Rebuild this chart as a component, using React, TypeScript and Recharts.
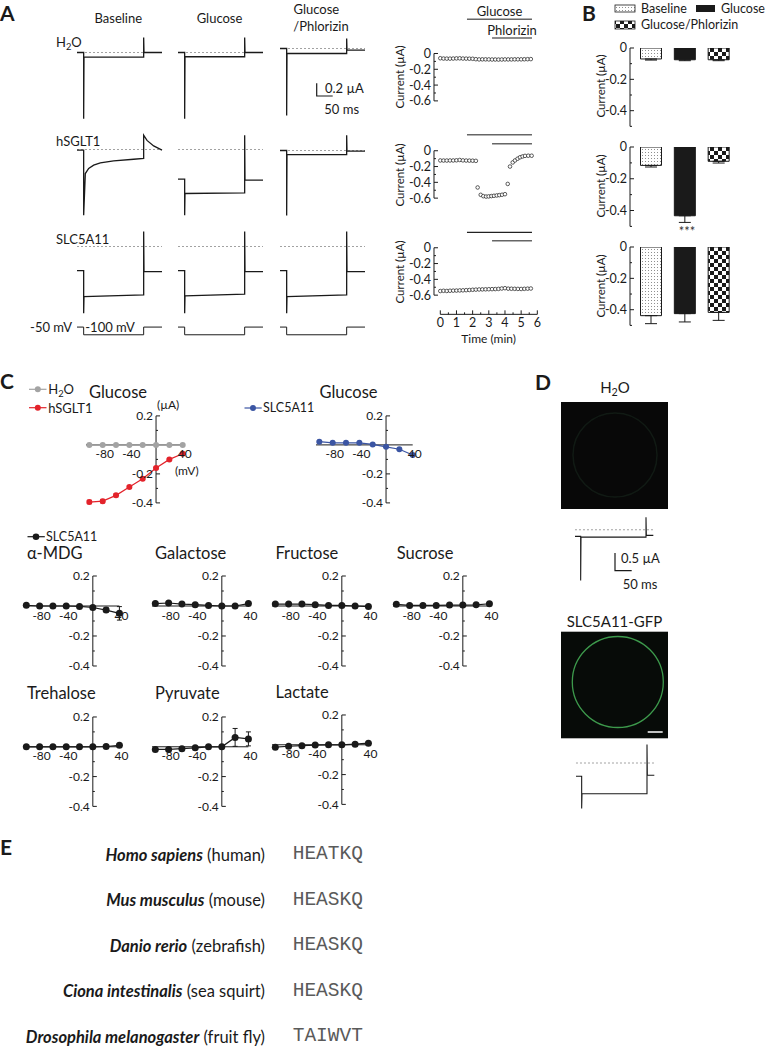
import React from 'react';
import {
  LineChart, Line, XAxis, YAxis, ReferenceLine, ReferenceDot,
  ScatterChart, Scatter, BarChart, Bar, Cell, ErrorBar,
} from 'recharts';

const FONT = 'Lato, "Noto Sans", sans-serif';
const INK = '#1a1a1a';

// ---------- Panel A: example current traces (time in ms, current in µA) ----------
const stepTime = [0, 20, 20, 21, 200, 200, 201, 255];
const h2oBaseline = [0, 0, -1.02, -0.07, -0.07, 0.23, 0, 0];
const h2oGlucose = [0, 0, -1.02, -0.065, -0.065, 0.23, 0, 0];
const h2oPhlorizin = [0, 0, -1.03, -0.077, -0.077, 0.154, -0.026, -0.026];
const sgltBaseTime = [0, 20, 20, 25, 35, 50, 70, 110, 170, 200, 200, 210, 230, 255];
const sgltBaseline = [-0.01, -0.01, -1.01, -0.37, -0.29, -0.24, -0.206, -0.175, -0.15, -0.138, 0.22, 0.14, 0.055, -0.01];
const sgltGlucose = [-0.457, -0.457, -1.01, -0.677, -0.668, 0.22, -0.472, -0.472];
const sgltPhlorizin = [0, 0, -1.0, -0.062, -0.062, 0.235, -0.01, -0.01];
const slcBaseline = [-0.37, -0.37, -1.025, -0.77, -0.743, 0.23, -0.385, -0.385];
const slcGlucose = [-0.37, -0.37, -1.025, -0.758, -0.733, 0.23, -0.385, -0.385];
const slcPhlorizin = [-0.37, -0.37, -1.025, -0.77, -0.743, 0.23, -0.385, -0.385];
const vTime = [0, 20, 20, 200, 200, 255];
const vStep = [-50, -50, -100, -100, -50, -50];

// ---------- Panel A: time course (min, µA) ----------
const tcTime = [0, 0.2, 0.4, 0.6, 0.8, 1, 1.2, 1.4, 1.6, 1.8, 2, 2.2, 2.4, 2.6, 2.8, 3, 3.2, 3.4, 3.6, 3.8, 4, 4.2, 4.4, 4.6, 4.8, 5, 5.2, 5.4, 5.6];
const tcH2O = [-0.06, -0.064, -0.065, -0.065, -0.064, -0.062, -0.061, -0.064, -0.065, -0.066, -0.067, -0.072, -0.075, -0.074, -0.074, -0.075, -0.076, -0.076, -0.077, -0.076, -0.075, -0.075, -0.075, -0.074, -0.074, -0.074, -0.073, -0.072, -0.071];
const tcSlc = [-0.548, -0.545, -0.547, -0.544, -0.543, -0.542, -0.54, -0.539, -0.537, -0.535, -0.532, -0.53, -0.528, -0.527, -0.526, -0.525, -0.524, -0.523, -0.521, -0.516, -0.512, -0.518, -0.519, -0.52, -0.521, -0.522, -0.52, -0.518, -0.516];
const tcSgltTime = [0, 0.2, 0.4, 0.6, 0.8, 1, 1.2, 1.4, 1.6, 1.8, 2, 2.2, 2.31, 2.5, 2.66, 2.83, 2.99, 3.16, 3.32, 3.49, 3.65, 3.82, 4.0, 4.17, 4.31, 4.48, 4.62, 4.78, 4.93, 5.09, 5.24, 5.44, 5.65];
const tcSglt = [-0.123, -0.124, -0.124, -0.123, -0.123, -0.121, -0.117, -0.122, -0.124, -0.125, -0.126, -0.128, -0.465, -0.558, -0.575, -0.58, -0.578, -0.574, -0.57, -0.566, -0.562, -0.557, -0.55, -0.42, -0.2, -0.148, -0.123, -0.101, -0.083, -0.072, -0.065, -0.063, -0.063];
const glucoseOn = [1.65, 5.67];
const phlorizinOn = [3.2, 5.67];

// ---------- Panel B: mean currents (µA) ----------
const bConditions = ['Baseline', 'Glucose', 'Glucose/Phlorizin'];
const bH2O = [-0.07, -0.075, -0.075];
const bH2OErr = [0.007, 0.006, 0.006];
const bSglt = [-0.116, -0.433, -0.09];
const bSgltErr = [0.01, 0.042, 0.011];
const bSlc = [-0.438, -0.425, -0.417];
const bSlcErr = [0.051, 0.053, 0.051];

// ---------- Panel C: I-V relations (mV, µA) ----------
const ivVoltage = [-100, -80, -60, -40, -20, 0, 20, 40];
const ivH2O = [0, 0, 0, 0, 0, 0, 0, 0];
const ivSglt = [-0.394, -0.388, -0.348, -0.291, -0.233, -0.16, -0.1, -0.061];
const ivSgltErr = [0.012, 0.012, 0.01, 0.008, 0.006, 0.006, 0.005, 0.005];
const ivSlcGlucose = [0.022, 0.014, 0.014, 0.014, 0.003, -0.013, -0.03, -0.07];
const ivSlcGlucoseErr = [0.004, 0.003, 0.003, 0.003, 0.003, 0.004, 0.006, 0.01];
const ivAmdg = [0.005, 0, 0, 0, -0.003, -0.01, -0.027, -0.049];
const ivAmdgErr = [0, 0, 0, 0, 0, 0, 0.012, 0.045];
const ivGalactose = [0.016, 0.02, 0.013, 0.009, 0.004, 0, 0, 0.016];
const ivFructose = [0.013, 0.013, 0.013, 0.009, 0.004, 0.004, 0, -0.004];
const ivSucrose = [0.011, 0.004, 0.004, 0.004, 0.006, 0.006, 0.008, 0.015];
const ivTrehalose = [0, 0, 0, 0, 0, 0, 0.002, 0.01];
const ivPyruvate = [-0.018, -0.018, -0.013, -0.007, 0, 0, 0.063, 0.053];
const ivPyruvateErr = [0.01, 0, 0, 0, 0, 0, 0.06, 0.047];
const ivLactate = [-0.016, -0.01, -0.006, -0.002, 0, 0, 0.004, 0.011];

// ---------- Panel D: traces (ms, µA) ----------
const dTime = [0, 17, 17, 18, 213, 213, 214, 235];
const dH2O = [-0.19, -0.19, -1.45, -0.21, -0.21, 0.36, -0.16, -0.16];
const dSlc = [-0.38, -0.38, -1.3, -0.877, -0.877, 0.53, -0.35, -0.35];

// ---------- Panel E ----------
const species = [
  ['Homo sapiens', '(human)'],
  ['Mus musculus', '(mouse)'],
  ['Danio rerio', '(zebrafish)'],
  ['Ciona intestinalis', '(sea squirt)'],
  ['Drosophila melanogaster', '(fruit fly)'],
];
const motifs = ['HEATKQ', 'HEASKQ', 'HEASKQ', 'HEASKQ', 'TAIWVT'];

const GRAY = '#a3a3a3';
const RED = '#e3232b';
const BLUE = '#3b55a3';

function T({ x, y, s = 13, a = 'start', w = 400, i = false, f = FONT, c = INK, children }: any) {
  const tx = a === 'start' ? '0' : a === 'middle' ? '-50%' : '-100%';
  return (
    <div style={{ position: 'absolute', left: x, top: y, transform: `translate(${tx}, -50%)`, fontSize: s, fontFamily: f, fontWeight: w, fontStyle: i ? 'italic' : 'normal', color: c, whiteSpace: 'nowrap', lineHeight: 1 }}>
      {children}
    </div>
  );
}

function VT({ x, y, s = 11.5, children }: any) {
  return (
    <div style={{ position: 'absolute', left: x, top: y, transform: 'translate(-50%, -50%) rotate(-90deg)', fontSize: s, fontFamily: FONT, color: INK, whiteSpace: 'nowrap', lineHeight: 1 }}>
      {children}
    </div>
  );
}

const Sub = ({ children }: any) => (
  <span style={{ fontSize: '0.72em', position: 'relative', top: '0.3em' }}>{children}</span>
);

function Trace({ left, top, time, values, tMax = 255, lo = -1.1, hi = 0.3, k = 65, dashed = true, sw = 1.3 }: any) {
  const data = time.map((t: number, i: number) => ({ t, v: values[i] }));
  const m = 3;
  const w = tMax / 3;
  const h = (hi - lo) * k;
  return (
    <div style={{ position: 'absolute', left: left - m, top: top - m }}>
      <LineChart width={w + 2 * m} height={h + 2 * m} data={data} margin={{ top: m, right: m, bottom: m, left: m }}>
        <XAxis type="number" dataKey="t" domain={[0, tMax]} hide />
        <YAxis type="number" domain={[lo, hi]} hide />
        {dashed && <ReferenceLine y={0} stroke="#8a8a8a" strokeDasharray="2 2" strokeWidth={0.8} />}
        <Line dataKey="v" type="linear" stroke={INK} strokeWidth={sw} dot={false} isAnimationActive={false} />
      </LineChart>
    </div>
  );
}

const fmt = (v: number) => (v === 0 ? '0' : v.toFixed(1));
const isMajor = (v: number) => Math.abs(Math.round(v * 10)) % 2 === 0;

const yTick = (p: any) => {
  const { x, y, payload } = p;
  const major = isMajor(payload.value);
  return (
    <g>
      <line x1={x} x2={x + (major ? 4 : 2)} y1={y} y2={y} stroke={INK} strokeWidth={1} />
      {major && (
        <text x={x - 3} y={y} textAnchor="end" dominantBaseline="central" fontSize={12.5} fontFamily={FONT} fill={INK}>{fmt(payload.value)}</text>
      )}
    </g>
  );
};

const bTick = (p: any) => {
  const { x, y, payload } = p;
  const v = payload.value;
  const major = isMajor(v) && v !== -0.5;
  return (
    <g>
      <line x1={x} x2={x + (major ? 4 : 2)} y1={y} y2={y} stroke={INK} strokeWidth={1} />
      {major && (
        <text x={x - 3} y={y} textAnchor="end" dominantBaseline="central" fontSize={12.5} fontFamily={FONT} fill={INK}>{fmt(v)}</text>
      )}
    </g>
  );
};

const tcXTick = (p: any) => {
  const { x, y, payload } = p;
  const major = Number.isInteger(payload.value);
  return (
    <g>
      <line x1={x} x2={x} y1={y} y2={y - (major ? 4 : 2)} stroke={INK} strokeWidth={1} />
      {major && (
        <text x={x} y={y + 8.5} textAnchor="middle" dominantBaseline="central" fontSize={12.5} fontFamily={FONT} fill={INK}>{payload.value}</text>
      )}
    </g>
  );
};

const OpenCircle = (p: any) => (
  <circle cx={p.cx} cy={p.cy} r={1.8} fill="#fff" stroke={INK} strokeWidth={0.7} />
);

const TC_LEFT = 434;
const TC_K = 79;
const TC_PX = 16.17;
const TC_X = [-0.39, 6];

function TimeCourse({ zero, lo, hi, times, values, periods, xAxis = false }: any) {
  const data = times.map((t: number, i: number) => ({ t, v: values[i] }));
  const plotW = (TC_X[1] - TC_X[0]) * TC_PX;
  const plotH = (hi - lo) * TC_K;
  const yW = 44;
  const xH = xAxis ? 20 : 0;
  const m = { top: 16, right: 6, bottom: 9, left: 0 };
  return (
    <div style={{ position: 'absolute', left: TC_LEFT - yW, top: zero - hi * TC_K - m.top }}>
      <ScatterChart width={yW + plotW + m.right} height={m.top + plotH + xH + m.bottom} margin={m}>
        <XAxis type="number" dataKey="t" domain={TC_X} hide={!xAxis} height={xH} ticks={[0, 0.5, 1, 1.5, 2, 2.5, 3, 3.5, 4, 4.5, 5, 5.5, 6]} tick={tcXTick} tickSize={0} tickMargin={0} axisLine={false} tickLine={false} interval={0} allowDataOverflow />
        <YAxis type="number" dataKey="v" domain={[lo, hi]} width={yW} ticks={[0, -0.1, -0.2, -0.3, -0.4, -0.5, -0.6]} tick={yTick} tickSize={0} tickMargin={0} axisLine={false} tickLine={false} interval={0} allowDataOverflow />
        <ReferenceLine segment={[{ x: TC_X[0], y: 0 }, { x: TC_X[0], y: -0.6 }]} stroke={INK} strokeWidth={1} />
        {xAxis && <ReferenceLine segment={[{ x: 0, y: lo }, { x: 6, y: lo }]} stroke={INK} strokeWidth={1} />}
        {periods.map((pr: any, i: number) => (
          <ReferenceLine key={i} segment={[{ x: pr.on[0], y: pr.y }, { x: pr.on[1], y: pr.y }]} stroke={pr.color} strokeWidth={1.4}
            label={pr.label ? { value: pr.label, position: 'top', offset: 3, fontSize: 13, fontFamily: FONT, fill: INK } : undefined} />
        ))}
        <Scatter data={data} shape={OpenCircle} isAnimationActive={false} />
      </ScatterChart>
    </div>
  );
}

const barFills = ['url(#dots)', INK, 'url(#checker)'];

function CurrentBars({ zero, k, values, errors }: any) {
  const data = bConditions.map((c, i) => ({ c, v: values[i], e: [errors[i], 0] }));
  const plotH = 0.5 * k;
  const plotW = 106;
  const yW = 40;
  const m = { top: 8, right: 4, bottom: 8, left: 0 };
  return (
    <div style={{ position: 'absolute', left: 630 - yW, top: zero - m.top }}>
      <BarChart width={yW + plotW + m.right} height={m.top + plotH + m.bottom} data={data} margin={m}>
        <XAxis dataKey="c" hide padding={{ left: 4.5, right: 0 }} />
        <YAxis type="number" domain={[-0.5, 0]} ticks={[0, -0.1, -0.2, -0.3, -0.4, -0.5]} width={yW} tick={bTick} tickSize={0} tickMargin={0} tickLine={false} axisLine={{ stroke: INK, strokeWidth: 1 }} interval={0} allowDataOverflow />
        <Bar dataKey="v" barSize={21} stroke={INK} strokeWidth={1} isAnimationActive={false}>
          {data.map((d, i) => <Cell key={i} fill={barFills[i]} />)}
          <ErrorBar dataKey="e" width={6} stroke={INK} strokeWidth={1} direction="y" />
        </Bar>
      </BarChart>
    </div>
  );
}

const IV_V = [-108, 48];
const IV_I = [-0.42, 0.22];

function IVPlot({ x0, y0, kx = 0.665, ky = 150, series, r = 3.5 }: any) {
  const data = ivVoltage.map((v, i) => {
    const row: any = { v };
    series.forEach((s: any, j: number) => {
      row['s' + j] = s.values[i];
      if (s.errors) row['e' + j] = s.errors[i];
    });
    return row;
  });
  const m = { top: 6, right: 14, bottom: 18, left: 30 };
  const plotW = (IV_V[1] - IV_V[0]) * kx;
  const plotH = (IV_I[1] - IV_I[0]) * ky;
  const lab = { fontSize: 12, fontFamily: FONT, fill: INK };
  return (
    <div style={{ position: 'absolute', left: x0 + IV_V[0] * kx - m.left, top: y0 - IV_I[1] * ky - m.top }}>
      <LineChart width={plotW + m.left + m.right} height={plotH + m.top + m.bottom} data={data} margin={m}>
        <XAxis type="number" dataKey="v" domain={IV_V} hide allowDataOverflow />
        <YAxis type="number" domain={IV_I} hide allowDataOverflow />
        <ReferenceLine segment={[{ x: -105, y: 0 }, { x: 40, y: 0 }]} stroke={INK} strokeWidth={1} />
        <ReferenceLine segment={[{ x: 0, y: -0.4 }, { x: 0, y: 0.2 }]} stroke={INK} strokeWidth={1} />
        {[0.2, 0.1, -0.1, -0.2, -0.3, -0.4].map((v) => (
          <ReferenceLine key={'t' + v} segment={[{ x: 0, y: v }, { x: (isMajor(v) ? 4 : 2) / kx, y: v }]} stroke={INK} strokeWidth={1} />
        ))}
        {[0.2, -0.2, -0.4].map((v) => (
          <ReferenceDot key={'l' + v} x={0} y={v} r={0.01} fill="none" stroke="none" label={{ value: v.toFixed(1), position: 'left', offset: 3, ...lab }} />
        ))}
        {[-80, -40, 40].map((v) => (
          <ReferenceDot key={'x' + v} x={v + 3} y={0} r={0.01} fill="none" stroke="none" label={{ value: String(v), position: 'bottom', offset: 5, ...lab }} />
        ))}
        {series.map((s: any, j: number) => (
          <Line key={j} dataKey={'s' + j} type="linear" stroke={s.color} strokeWidth={1.2} isAnimationActive={false}
            dot={{ r, fill: s.color, stroke: s.color, strokeWidth: 0 }}>
            {s.errors && <ErrorBar dataKey={'e' + j} width={2.5} stroke={s.color} strokeWidth={1} direction="y" />}
          </Line>
        ))}
      </LineChart>
    </div>
  );
}

const black = (values: number[], errors?: number[]) => [{ values, errors, color: INK }];

export default function App() {
  const aCols = [76.7, 178.3, 280];
  return (
    <div style={{ position: 'absolute', left: 0, top: 0, width: 766, height: 1048, background: '#fff', fontFamily: FONT, overflow: 'hidden' }}>
      <svg width={766} height={1048} style={{ position: 'absolute', left: 0, top: 0 }}>
        <defs>
          <pattern id="dots" width="3" height="3" patternUnits="userSpaceOnUse">
            <rect width="3" height="3" fill="#fff" />
            <rect x="1" y="1" width="1" height="1" fill="#8f8f8f" />
          </pattern>
          <pattern id="checker" width="8" height="8" patternUnits="userSpaceOnUse">
            <rect width="8" height="8" fill="#fff" />
            <rect width="4" height="4" fill={INK} />
            <rect x="4" y="4" width="4" height="4" fill={INK} />
          </pattern>
        </defs>
        {/* A scale bar */}
        <path d="M316.7 83.3 V96 H332.7" fill="none" stroke={INK} strokeWidth={1.2} />
        {/* B legend */}
        <rect x={615} y={5} width={20} height={7} fill="url(#dots)" stroke={INK} strokeWidth={0.8} />
        <rect x={696} y={5} width={19} height={7} fill={INK} />
        <rect x={615} y={21} width={20} height={8} fill="url(#checker)" stroke={INK} strokeWidth={0.8} />
        {/* C legends */}
        <line x1={29} x2={46.5} y1={389.3} y2={389.3} stroke={GRAY} strokeWidth={1.2} />
        <circle cx={37.8} cy={389.3} r={3} fill={GRAY} />
        <line x1={29} x2={46.5} y1={407.7} y2={407.7} stroke={RED} strokeWidth={1.2} />
        <circle cx={37.8} cy={407.7} r={3} fill={RED} />
        <line x1={244.5} x2={261.7} y1={408} y2={408} stroke={BLUE} strokeWidth={1.2} />
        <circle cx={253} cy={408} r={3} fill={BLUE} />
        <line x1={27.5} x2={44.8} y1={536.7} y2={536.7} stroke={INK} strokeWidth={1.2} />
        <circle cx={36} cy={536.7} r={3.3} fill={INK} />
        {/* D images */}
        <rect x={561} y={402} width={107} height={107} fill="#080808" />
        <circle cx={615} cy={455} r={42} fill="none" stroke="#111a14" strokeWidth={1.5} />
        <rect x={561} y={631.7} width={107} height={106.6} fill="#070b08" />
        <circle cx={617.8} cy={682} r={45.5} fill="none" stroke="#3d9a4c" strokeWidth={1.3} />
        <line x1={647.7} x2={662.7} y1={732} y2={732} stroke="#fff" strokeWidth={1.5} />
        {/* D scale bar */}
        <path d="M615 553 V570.7 H631.7" fill="none" stroke={INK} strokeWidth={1.2} />
      </svg>

      {/* ---------- Panel A ---------- */}
      <T x={0} y={11.5} s={21} w={700}>A</T>
      <T x={118.3} y={18.3} a="middle">Baseline</T>
      <T x={219.5} y={18.3} a="middle">Glucose</T>
      <T x={316.3} y={9.3} a="middle">Glucose</T>
      <T x={321} y={26} a="middle">/Phlorizin</T>
      <T x={56} y={42.3}>H<Sub>2</Sub>O</T>
      <T x={56} y={141}>hSGLT1</T>
      <T x={56} y={239.3}>SLC5A11</T>
      <T x={325} y={88.3}>0.2 µA</T>
      <T x={324.3} y={109.3}>50 ms</T>
      <T x={72} y={327} a="end">-50 mV</T>
      <T x={110} y={327} a="middle">-100 mV</T>

      <Trace left={aCols[0]} top={52.7 - 19.5} time={stepTime} values={h2oBaseline} />
      <Trace left={aCols[1]} top={52.7 - 19.5} time={stepTime} values={h2oGlucose} />
      <Trace left={aCols[2]} top={48.3 - 19.5} time={stepTime} values={h2oPhlorizin} />
      <Trace left={aCols[0]} top={149.3 - 19.5} time={sgltBaseTime} values={sgltBaseline} />
      <Trace left={aCols[1]} top={149.3 - 19.5} time={stepTime} values={sgltGlucose} />
      <Trace left={aCols[2]} top={150.3 - 19.5} time={stepTime} values={sgltPhlorizin} />
      <Trace left={aCols[0]} top={246.7 - 19.5} time={stepTime} values={slcBaseline} />
      <Trace left={aCols[1]} top={246.7 - 19.5} time={stepTime} values={slcGlucose} />
      <Trace left={aCols[2]} top={246.7 - 19.5} time={stepTime} values={slcPhlorizin} />
      {aCols.map((c) => (
        <Trace key={c} left={c} top={324.2} time={vTime} values={vStep} lo={-120} hi={-30} k={0.154} dashed={false} sw={1} />
      ))}

      <TimeCourse zero={53.3} lo={-0.62} hi={0.5} times={tcTime} values={tcH2O}
        periods={[{ on: glucoseOn, y: 0.434, color: '#666', label: 'Glucose' }, { on: phlorizinOn, y: 0.197, color: '#666', label: 'Phlorizin' }]} />
      <TimeCourse zero={151} lo={-0.62} hi={0.25} times={tcSgltTime} values={tcSglt}
        periods={[{ on: glucoseOn, y: 0.203, color: '#666' }, { on: phlorizinOn, y: 0.089, color: '#666' }]} />
      <TimeCourse zero={247.7} lo={-0.843} hi={0.25} times={tcTime} values={tcSlc} xAxis
        periods={[{ on: glucoseOn, y: 0.195, color: '#222' }, { on: phlorizinOn, y: 0.089, color: '#666' }]} />
      <VT x={400} y={77}>Current (µA)</VT>
      <VT x={400} y={174.7}>Current (µA)</VT>
      <VT x={400} y={271.5}>Current (µA)</VT>
      <T x={488.7} y={338.5} a="middle" s={12}>Time (min)</T>

      {/* ---------- Panel B ---------- */}
      <T x={582} y={12} s={21} w={700}>B</T>
      <T x={641} y={8.5} s={12.5}>Baseline</T>
      <T x={721} y={8.5} s={12.5}>Glucose</T>
      <T x={641} y={25} s={12.5}>Glucose/Phlorizin</T>
      <CurrentBars zero={48.3} k={156.7} values={bH2O} errors={bH2OErr} />
      <CurrentBars zero={147.3} k={158.8} values={bSglt} errors={bSgltErr} />
      <CurrentBars zero={247.3} k={156.8} values={bSlc} errors={bSlcErr} />
      <VT x={601} y={86}>Current (µA)</VT>
      <VT x={601} y={186}>Current (µA)</VT>
      <VT x={601} y={286}>Current (µA)</VT>
      <T x={687} y={231} a="middle" s={13} c="#333">***</T>

      {/* ---------- Panel C ---------- */}
      <T x={0} y={380} s={21} w={700}>C</T>
      <T x={48.2} y={389.3}>H<Sub>2</Sub>O</T>
      <T x={48.2} y={407.7}>hSGLT1</T>
      <T x={263} y={408} s={12.5}>SLC5A11</T>
      <T x={118} y={391.7} a="middle" s={16.5}>Glucose</T>
      <T x={348.5} y={391.7} a="middle" s={16.5}>Glucose</T>
      <T x={157} y={405} s={12}>(µA)</T>
      <T x={175} y={470.7} s={12}>(mV)</T>
      <IVPlot x0={156} y0={444.5} kx={0.667} ky={145} r={3}
        series={[{ values: ivH2O, color: GRAY }, { values: ivSglt, errors: ivSgltErr, color: RED }]} />
      <IVPlot x0={386.4} y0={445} kx={0.667} ky={145} r={3}
        series={[{ values: ivSlcGlucose, errors: ivSlcGlucoseErr, color: BLUE }]} />

      <T x={46} y={536.7} s={12.5}>SLC5A11</T>
      <T x={26.9} y={552.7} s={16.5}>α-MDG</T>
      <T x={155} y={552.7} s={16.5}>Galactose</T>
      <T x={275.5} y={552.7} s={16.5}>Fructose</T>
      <T x={396.7} y={552.7} s={16.5}>Sucrose</T>
      <IVPlot x0={93} y0={605.5} series={black(ivAmdg, ivAmdgErr)} />
      <IVPlot x0={222} y0={605.5} series={black(ivGalactose)} />
      <IVPlot x0={342} y0={605.5} series={black(ivFructose)} />
      <IVPlot x0={462.5} y0={605.5} series={black(ivSucrose)} />

      <T x={26.9} y={693.3} s={16.5}>Trehalose</T>
      <T x={155} y={693.3} s={16.5}>Pyruvate</T>
      <T x={275.5} y={691.7} s={16.5}>Lactate</T>
      <IVPlot x0={93} y0={746.7} ky={149} series={black(ivTrehalose)} />
      <IVPlot x0={222} y0={746.7} ky={149} series={black(ivPyruvate, ivPyruvateErr)} />
      <IVPlot x0={342} y0={744.3} ky={149} series={black(ivLactate)} />

      {/* ---------- Panel D ---------- */}
      <T x={535} y={380.5} s={21} w={700}>D</T>
      <T x={615} y={386.7} a="middle" s={15}>H<Sub>2</Sub>O</T>
      <Trace left={575} top={529.3 - 0.45 * 35} time={dTime} values={dH2O} tMax={235} lo={-1.55} hi={0.45} k={35} sw={1.1} />
      <T x={621} y={558}>0.5 µA</T>
      <T x={622.7} y={584}>50 ms</T>
      <T x={614.5} y={621} a="middle" s={15}>SLC5A11-GFP</T>
      <Trace left={576} top={762.7 - 0.6 * 35} time={dTime} values={dSlc} tMax={235} lo={-1.4} hi={0.6} k={35} sw={1.1} />

      {/* ---------- Panel E ---------- */}
      <T x={0} y={846} s={21} w={700}>E</T>
      {species.map(([latin, common], i) => (
        <React.Fragment key={latin}>
          <T x={265} y={854.5 + i * 45.6} a="end" s={16.5}>
            <span style={{ fontWeight: 700, fontStyle: 'italic' }}>{latin}</span> {common}
          </T>
          <T x={292.7} y={855 + i * 45.6} s={19.5} f='"Liberation Mono", "DejaVu Sans Mono", monospace' c="#5a5a5a">{motifs[i]}</T>
        </React.Fragment>
      ))}
    </div>
  );
}
